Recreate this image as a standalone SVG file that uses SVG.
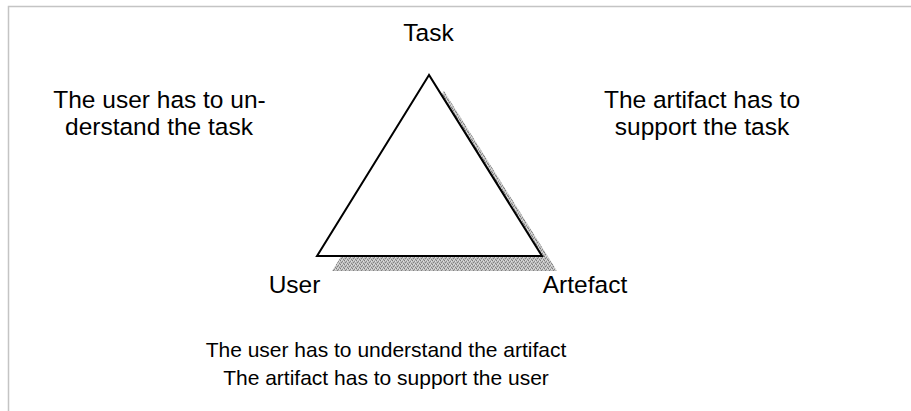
<svg xmlns="http://www.w3.org/2000/svg" width="911" height="411" viewBox="0 0 911 411">
  <style>
    text { font-family: "Liberation Sans", Arial, sans-serif; fill: #000; }
    .label { font-size: 24.5px; text-anchor: middle; }
    .note { font-size: 24.5px; text-anchor: middle; }
    .bottom { font-size: 21px; text-anchor: middle; }
    .frame { fill: none; stroke: #c4c4c4; stroke-width: 1.5; }
    .tri { fill: #fff; stroke: #000; stroke-width: 2; stroke-linejoin: miter; }
  </style>
  <defs>
    <!-- stippled grey fill for the drop shadow -->
    <pattern id="stipple" width="4" height="4" patternUnits="userSpaceOnUse">
      <rect width="4" height="4" fill="#bdbdbd"/>
      <rect x="0" y="0" width="1" height="1" fill="#7a7a7a"/>
      <rect x="2" y="1" width="1" height="1" fill="#8a8a8a"/>
      <rect x="1" y="2" width="1" height="1" fill="#808080"/>
      <rect x="3" y="3" width="1" height="1" fill="#858585"/>
      <rect x="3" y="1" width="1" height="1" fill="#e2e2e2"/>
      <rect x="1" y="0" width="1" height="1" fill="#dcdcdc"/>
      <rect x="2" y="3" width="1" height="1" fill="#d8d8d8"/>
    </pattern>
  </defs>

  <rect width="911" height="411" fill="#fff"/>
  <!-- page frame -->
  <path class="frame" d="M8.5,411 V6.5 H911"/>

  <!-- triangle with drop shadow -->
  <g id="triangle">
    <polygon points="444,91 332,271 557,271" fill="url(#stipple)"/>
    <polygon class="tri" points="429,75 317,256 542,256"/>
  </g>

  <!-- corner labels -->
  <g id="task"><text class="label" x="428.5" y="41">Task</text></g>
  <g id="user"><text class="label" x="294.5" y="293">User</text></g>
  <g id="artefact"><text class="label" x="585" y="293">Artefact</text></g>

  <!-- relationship notes -->
  <g id="user-task">
    <text class="note" x="159.5" y="108">The user has to un-</text>
    <text class="note" x="159" y="135">derstand the task</text>
  </g>
  <g id="artifact-task">
    <text class="note" x="702" y="108">The artifact has to</text>
    <text class="note" x="702" y="135">support the task</text>
  </g>
  <g id="user-artifact">
    <text class="bottom" x="386" y="357">The user has to understand the artifact</text>
    <text class="bottom" x="386" y="385">The artifact has to support the user</text>
  </g>
</svg>
